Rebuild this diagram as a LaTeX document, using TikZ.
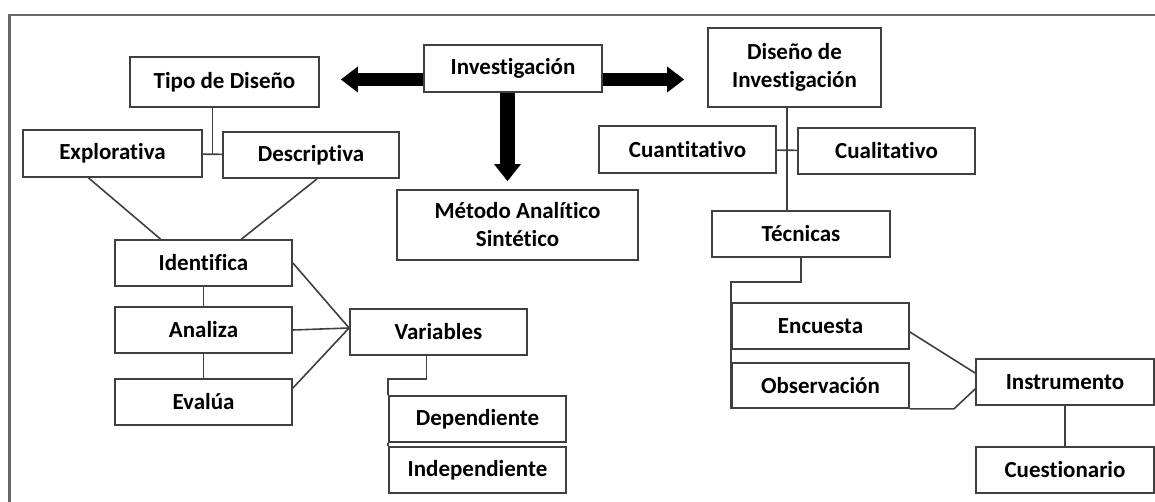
\documentclass[tikz,border=0pt]{standalone}
\usepackage{fontspec}
\setmainfont{Carlito}[Ligatures=NoCommon]
\usetikzlibrary{arrows.meta,calc}
\begin{document}
\begin{tikzpicture}[x=1pt,y=1pt]
	% Estilos
	\tikzstyle{caja} = [rectangle, draw=black!75, line width=1.8pt, minimum width=177pt, minimum height=46pt, inner sep=2pt, text centered, align=center, font=\fontsize{23}{28}\selectfont\bfseries]
	\tikzstyle{linea} = [draw=black!75, line width=1.6pt]
	\tikzstyle{flecha} = [line width=13pt, -{Triangle[width=26pt,length=17pt,line width=0pt]}]
	\tikzstyle{marco} = [draw=black!60, line width=2.2pt]
	\useasboundingbox (0,0) rectangle (1155,-502);
	\draw[marco] (1155,-15) -- (9.5,-15) -- (9.5,-502);
	% Nodos
	\node (inv) [caja, minimum width=178pt, minimum height=47pt] at (513,-68.5) {Investigación};
	\node (tipo) [caja, minimum width=189pt, minimum height=50pt] at (224.5,-82) {Tipo de Diseño};
	\node (dis) [caja, minimum width=173pt, minimum height=79pt] at (794.5,-67.5) {Diseño de\\Investigación};
	\node (met) [caja, minimum width=241pt, minimum height=70pt] at (517.5,-225) {Método Analítico\\Sintético};
	\node (expl) [caja, minimum width=179pt, minimum height=47pt] at (112.5,-153.5) {Explorativa};
	\node (desc) [caja, minimum width=176pt] at (311,-155) {Descriptiva};
	\node (ident) [caja] at (203.5,-263) {Identifica};
	\node (anal) [caja] at (203.5,-330) {Analiza};
	\node (eval) [caja] at (203.5,-402) {Evalúa};
	\node (var) [caja] at (438.5,-332) {Variables};
	\node (dep) [caja] at (477.5,-419) {Dependiente};
	\node (indep) [caja] at (477.5,-470) {Independiente};
	\node (cuant) [caja, minimum height=47pt] at (687.5,-149.5) {Cuantitativo};
	\node (cual) [caja] at (886.5,-151) {Cualitativo};
	\node (tec) [caja, minimum width=178pt] at (801,-234) {Técnicas};
	\node (enc) [caja] at (820.5,-326) {Encuesta};
	\node (obs) [caja, minimum height=45pt] at (820.5,-385.5) {Observación};
	\node (instr) [caja, minimum width=178pt] at (1065,-382) {Instrumento};
	\node (cuest) [caja, minimum width=178pt] at (1065,-470) {Cuestionario};
	% Flechas
	\coordinate (fizq) at ([yshift=-11pt]inv.west);
	\coordinate (fder) at ([yshift=-11pt]inv.east);
	\coordinate (fabj) at ([xshift=-5.5pt]inv.south);
	\draw [flecha, shorten >=21pt] (fizq) -- (fizq -| tipo.east);
	\draw [flecha, shorten >=23pt] (fder) -- (fder -| dis.west);
	\draw [flecha, line width=15pt, -{Triangle[width=27pt,length=17pt,line width=0pt]}, shorten >=8pt] (fabj) -- (fabj |- met.north);
	% Conectores
	\coordinate (j1) at ($(expl.east)!0.5!(desc.west)$);
	\draw [linea] (expl) -- (desc);
	\draw [linea] (j1 |- tipo.south) -- (j1);
	\draw [linea] ([xshift=-24pt]expl.south) -- ([xshift=-43pt]ident.north);
	\draw [linea] ([xshift=6pt]desc.south) -- ([xshift=38pt]ident.north);
	\draw [linea] (ident) -- (anal);
	\draw [linea] (anal) -- (eval);
	\draw [linea] (ident.east) -- ([yshift=4pt]var.west);
	\draw [linea] (anal.east) -- ([yshift=4pt]var.west);
	\draw [linea] ([yshift=14pt]eval.east) -- ([yshift=4pt]var.west);
	\draw [linea] ([xshift=-12pt]var.south) |- ([yshift=16pt]dep.north west) -- (dep.north west);
	\draw [linea] (dep.south west) -- (indep.north west);
	\coordinate (j2) at ($(cuant.east)!0.5!(cual.west)$);
	\draw [linea] (cuant) -- (cual);
	\draw [linea] (j2 |- dis.south) -- (j2 |- tec.north);
	\draw [linea] (tec.south) |- ([yshift=20pt]enc.north west) -- (obs.south west);
	\draw [linea] ([yshift=-6pt]enc.east) -- ([yshift=9pt]instr.west);
	\draw [linea] (obs.south east) -- ++(44pt,0) -- ([yshift=-7pt]instr.west);
	\draw [linea] (instr) -- (cuest);
\end{tikzpicture}
\end{document}
